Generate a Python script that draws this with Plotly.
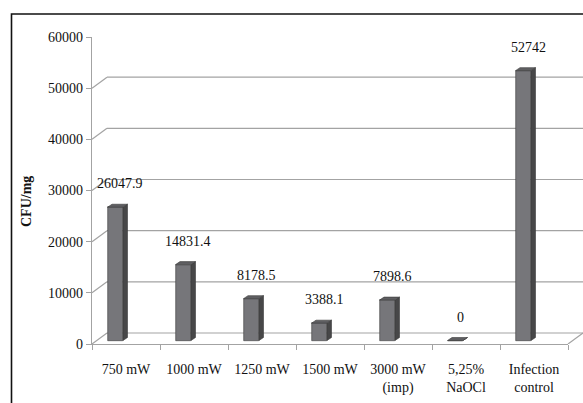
import plotly.graph_objects as go

# ---------------- data ----------------
categories = ["750 mW", "1000 mW", "1250 mW", "1500 mW",
              "3000 mW<br>(imp)", "5,25%<br>NaOCl", "Infection<br>control"]
values = [26047.9, 14831.4, 8178.5, 3388.1, 7898.6, 0, 52742]
value_labels = ["26047.9", "14831.4", "8178.5", "3388.1", "7898.6", "0", "52742"]
y_ticks = [0, 10000, 20000, 30000, 40000, 50000, 60000]
y_title = "CFU/mg"

# ---------------- layout geometry ----------------
FIG_W, FIG_H = 583, 403
M_L, M_R, M_T, M_B = 92, 15, 37, 59
PW = FIG_W - M_L - M_R
PH = FIG_H - M_T - M_B
Y_MAX = 60000
n = len(categories)
ux = n / PW          # x data units per pixel
uy = Y_MAX / PH      # y data units per pixel

WALL_DX, WALL_DY = 15, 11                 # 3D wall depth in px
BAR_LEFT, BAR_W = 15.5, 15.5              # bar front face position within category (px)
BAR_DX, BAR_DY, BAR_LIFT = 4.5, 3, 3.5    # bar depth / lift (px)

FONT = "Liberation Serif, Times New Roman, DejaVu Serif, serif"
FRONT_C, SIDE_C, TOP_C, EDGE_C = "#76767a", "#474748", "#5e5e61", "#3a3a3a"
GRID_C = "#a3a3a3"

centers = [i + 0.5 for i in range(n)]

fig = go.Figure()

# front faces
fig.add_trace(go.Bar(
    x=centers, y=values, base=BAR_LIFT * uy,
    width=BAR_W * ux, offset=BAR_LEFT * ux - 0.5,
    marker=dict(color=FRONT_C, line=dict(color=EDGE_C, width=0.6)),
    hoverinfo="skip", showlegend=False))

# side and top faces
sx, sy, tx, ty = [], [], [], []
ddx, ddy = BAR_DX * ux, BAR_DY * uy
for i, v in enumerate(values):
    xl = i + BAR_LEFT * ux
    xr = xl + BAR_W * ux
    b = BAR_LIFT * uy
    t = v + b
    sx += [xr, xr + ddx, xr + ddx, xr, xr, None]
    sy += [b, b + ddy, t + ddy, t, b, None]
    tx += [xl, xl + ddx, xr + ddx, xr, xl, None]
    ty += [t, t + ddy, t + ddy, t, t, None]

fig.add_trace(go.Scatter(x=sx, y=sy, mode="lines", fill="toself",
                         fillcolor=SIDE_C, line=dict(color=EDGE_C, width=0.6),
                         hoverinfo="skip", showlegend=False))
fig.add_trace(go.Scatter(x=tx, y=ty, mode="lines", fill="toself",
                         fillcolor=TOP_C, line=dict(color=EDGE_C, width=0.6),
                         hoverinfo="skip", showlegend=False))

# back-wall gridlines and floor
shapes = []
wdx = WALL_DX / PW
wdy = WALL_DY * uy
for v in y_ticks:
    if v >= Y_MAX:
        continue
    shapes.append(dict(type="line", xref="paper", yref="y", x0=0, y0=v, x1=wdx, y1=v + wdy,
                       line=dict(color=GRID_C, width=1.2), layer="below"))
    shapes.append(dict(type="line", xref="paper", yref="y", x0=wdx, y0=v + wdy, x1=1 + wdx, y1=v + wdy,
                       line=dict(color=GRID_C, width=1.2), layer="below"))
shapes.append(dict(type="line", xref="paper", yref="y", x0=1, y0=0, x1=1 + wdx, y1=wdy,
                   line=dict(color=GRID_C, width=1.2), layer="below"))

# outer chart frame
shapes.append(dict(type="rect", xref="paper", yref="paper",
                   x0=(11.5 - M_L) / PW, x1=(FIG_W + 10 - M_L) / PW,
                   y0=-(M_B + 10) / PH, y1=1 + (M_T - 14) / PH,
                   line=dict(color="#111111", width=1.6), fillcolor="rgba(0,0,0,0)"))

annotations = []
for c, v, lab in zip(centers, values, value_labels):
    annotations.append(dict(x=c - 6 * ux, y=v, xref="x", yref="y", text=lab,
                            showarrow=False, yshift=27, xanchor="center", yanchor="middle",
                            font=dict(family=FONT, size=14, color="#111111")))
annotations.append(dict(x=(26 - M_L) / PW, y=(FIG_H - M_B - 202) / PH, xref="paper", yref="paper",
                        text="<b>" + y_title + "</b>", textangle=-90, showarrow=False,
                        xanchor="center", yanchor="middle",
                        font=dict(family=FONT, size=14, color="#111111")))

fig.update_layout(
    width=FIG_W, height=FIG_H,
    margin=dict(l=M_L, r=M_R, t=M_T, b=M_B, pad=0, autoexpand=False),
    paper_bgcolor="white", plot_bgcolor="white",
    bargap=0, barmode="overlay",
    shapes=shapes, annotations=annotations,
    xaxis=dict(range=[0, n], tickmode="array", tickvals=centers, ticktext=categories,
               ticks="", showline=True, linecolor=GRID_C, linewidth=1.2, automargin=False,
               showgrid=False, zeroline=False, ticklabelstandoff=12,
               tickfont=dict(family=FONT, size=14, color="#111111"),
               minor=dict(tickmode="array", tickvals=list(range(n + 1)), ticks="outside",
                          ticklen=5, tickcolor=GRID_C, tickwidth=1.2, showgrid=False),
               fixedrange=True),
    yaxis=dict(range=[0, Y_MAX], tickmode="array", tickvals=y_ticks, tickformat="d",
               ticks="outside", ticklen=5, tickcolor=GRID_C, tickwidth=1.2,
               showline=True, linecolor=GRID_C, linewidth=1.2, automargin=False,
               showgrid=False, zeroline=False,
               tickfont=dict(family=FONT, size=14, color="#111111"),
               fixedrange=True),
    showlegend=False,
)

fig.write_html("out.html", config={"displayModeBar": False},
               post_script="document.body.style.margin='0px';")
